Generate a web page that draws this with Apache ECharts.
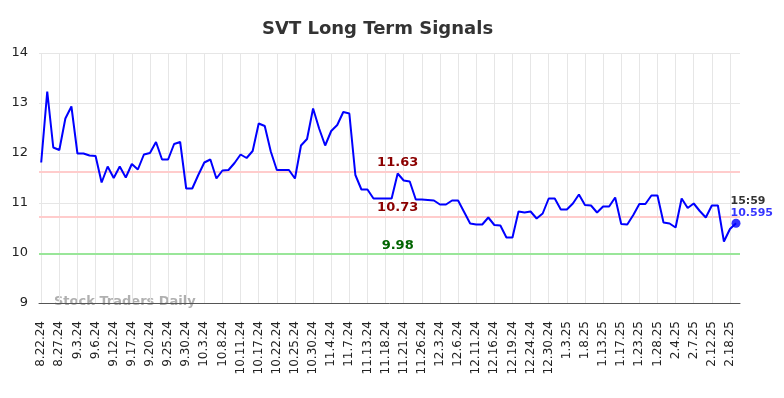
<!DOCTYPE html>
<html><head><meta charset="utf-8">
<script src="https://cdn.jsdelivr.net/npm/echarts@6/dist/echarts.min.js"></script>
<style>html,body{margin:0;padding:0;background:#fff}#c{width:784px;height:398px}</style>
</head><body><div id="c"></div>
<script>
const tickLabels = ['8.22.24','8.27.24','9.3.24','9.6.24','9.12.24','9.17.24','9.20.24','9.25.24','9.30.24','10.3.24','10.8.24','10.11.24','10.17.24','10.22.24','10.25.24','10.30.24','11.4.24','11.7.24','11.13.24','11.18.24','11.21.24','11.26.24','12.3.24','12.6.24','12.11.24','12.16.24','12.19.24','12.24.24','12.30.24','1.3.25','1.8.25','1.13.25','1.17.25','1.23.25','1.28.25','2.4.25','2.7.25','2.12.25','2.18.25'];
const tickStep = 3;
const prices = [
 11.81,13.23,12.11,12.06,12.69,12.93,11.99,11.99,11.95,11.94,
 11.41,11.73,11.50,11.73,11.51,11.78,11.67,11.97,12.00,12.22,
 11.87,11.87,12.18,12.22,11.29,11.29,11.56,11.81,11.87,11.49,
 11.65,11.66,11.80,11.97,11.90,12.04,12.59,12.54,12.03,11.66,
 11.66,11.66,11.49,12.15,12.28,12.89,12.49,12.15,12.44,12.56,
 12.82,12.79,11.56,11.27,11.27,11.09,11.09,11.09,11.09,11.59,
 11.45,11.43,11.07,11.07,11.06,11.05,10.97,10.97,11.05,11.05,
 10.82,10.59,10.57,10.57,10.71,10.56,10.55,10.31,10.31,10.83,
 10.81,10.83,10.69,10.79,11.09,11.09,10.87,10.87,10.99,11.17,
 10.96,10.95,10.81,10.93,10.93,11.11,10.58,10.57,10.76,10.98,
 10.98,11.15,11.15,10.61,10.59,10.51,11.09,10.90,10.99,10.84,
 10.71,10.95,10.95,10.23,10.48,10.595
];
const redLevels = [11.63, 10.73];
const greenLevels = [9.98];
const lastTime = '15:59';
const yTicks = [9, 10, 11, 12, 13, 14];

const n = prices.length;
const tickIdx = tickLabels.map((_, k) => k * tickStep);
const labelAt = Math.round((n - 1) * 0.515);

const chart = echarts.init(document.getElementById('c'), null, {renderer: 'canvas'});
chart.setOption({
  animation: false,
  backgroundColor: '#fff',
  title: {
    text: 'SVT Long Term Signals',
    left: 257, top: 15,
    textStyle: {fontFamily: 'DejaVu Sans', fontSize: 18, fontWeight: 'bold', color: '#333'}
  },
  grid: {left: 39, right: 44, top: 53, bottom: 95},
  xAxis: {
    type: 'value', min: -0.364, max: n - 1 + 0.66,
    axisLine: {show: true, onZero: false, lineStyle: {color: '#555', width: 1}},
    axisTick: {show: false, customValues: tickIdx},
    axisLabel: {
      customValues: tickIdx, rotate: 90, margin: 18,
      fontFamily: 'DejaVu Sans', fontSize: 12, color: '#222',
      formatter: v => tickLabels[Math.round(v / tickStep)]
    },
    splitLine: {show: true, lineStyle: {color: '#e6e6e6', width: 1}}
  },
  yAxis: {
    type: 'value', min: yTicks[0], max: yTicks[yTicks.length - 1], interval: 1,
    axisLine: {show: false}, axisTick: {show: false},
    axisLabel: {margin: 11, fontFamily: 'DejaVu Sans', fontSize: 13, color: '#222'},
    splitLine: {show: true, lineStyle: {color: '#e6e6e6', width: 1}}
  },
  graphic: [{
    type: 'text', left: 54, top: 295, silent: true,
    style: {text: 'Stock Traders Daily', font: 'bold 13px "DejaVu Sans"', fill: 'rgba(150,150,150,0.75)'}
  }],
  series: [
    {
      type: 'line', data: prices.map((v, i) => [i, v]),
      showSymbol: false, lineStyle: {color: '#0000ff', width: 2}, z: 5,
      markLine: {
        silent: true, symbol: 'none', label: {show: false},
        data: redLevels.map(v => ({yAxis: v, lineStyle: {color: '#ffcccc', width: 2, type: 'solid'}}))
          .concat(greenLevels.map(v => ({yAxis: v, lineStyle: {color: '#99e699', width: 2, type: 'solid'}}))),
        z: 2
      },
      markPoint: {
        silent: true, symbol: 'circle', symbolSize: 0,
        data: redLevels.map(v => ({coord: [labelAt, v], value: v.toFixed(2),
            label: {color: '#8b0000'}}))
          .concat(greenLevels.map(v => ({coord: [labelAt, v], value: v.toFixed(2),
            label: {color: '#006400'}}))),
        label: {show: true, position: 'top', distance: 2, fontFamily: 'DejaVu Sans', fontSize: 13, fontWeight: 'bold',
          formatter: p => p.value}
      }
    },
    {
      type: 'scatter', data: [[n - 1, prices[n - 1]]], symbolSize: 9, z: 6,
      itemStyle: {color: '#0000ff'},
      label: {
        show: true, position: [-1, -24], align: 'left',
        formatter: () => '{t|' + lastTime + '}\n{v|' + prices[n - 1] + '}',
        rich: {
          t: {fontFamily: 'DejaVu Sans', fontSize: 11, fontWeight: 'bold', color: '#000', lineHeight: 12},
          v: {fontFamily: 'DejaVu Sans', fontSize: 11, fontWeight: 'bold', color: '#0000ff', lineHeight: 12}
        }
      }
    }
  ]
});
</script></body></html>
